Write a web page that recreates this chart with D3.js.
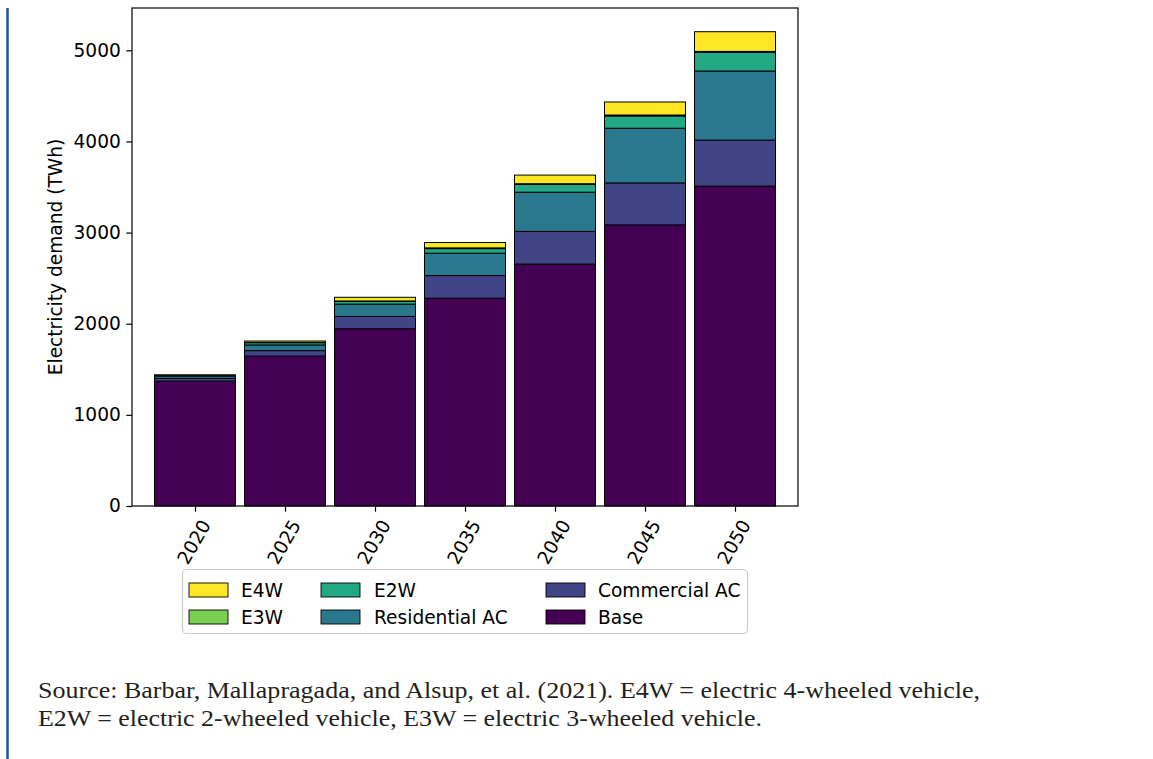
<!DOCTYPE html>
<html>
<head>
<meta charset="utf-8">
<script src="https://cdn.jsdelivr.net/npm/d3@7"></script>
<style>
  body { margin: 0; background: #fff; }
  svg { display: block; }
</style>
</head>
<body>
<div id="chart"></div>
<script>
// Data (TWh)
const years = ['2020', '2025', '2030', '2035', '2040', '2045', '2050'];
const base = [1370, 1645, 1945, 2280, 2655, 3085, 3510];
const commercialAC = [30, 60, 135, 248, 358, 460, 505];
const residentialAC = [25, 62, 135, 246, 430, 600, 758];
const e2w = [8, 25, 30, 50, 85, 135, 205];
const e3w = [1, 3, 5, 8, 8, 10, 10];
const e4w = [5, 15, 40, 59, 95, 143, 216];
const yTicks = [0, 1000, 2000, 3000, 4000, 5000];

const seriesKeys = ['Base', 'Commercial AC', 'Residential AC', 'E2W', 'E3W', 'E4W'];
const seriesColors = {
  'Base': '#440154',
  'Commercial AC': '#414487',
  'Residential AC': '#2a788e',
  'E2W': '#22a884',
  'E3W': '#7ad151',
  'E4W': '#fde725'
};
const legendOrder = ['E4W', 'E3W', 'E2W', 'Residential AC', 'Commercial AC', 'Base'];

const rows = years.map((y, i) => ({
  year: y,
  'Base': base[i],
  'Commercial AC': commercialAC[i],
  'Residential AC': residentialAC[i],
  'E2W': e2w[i],
  'E3W': e3w[i],
  'E4W': e4w[i]
}));

const W = 1153, H = 759;
const font = 'DejaVu Sans, sans-serif';
const fs = 18.6;

const svg = d3.select('#chart').append('svg')
  .attr('width', W).attr('height', H);

// left accent rule
svg.append('line')
  .attr('x1', 7.5).attr('x2', 7.5).attr('y1', 8).attr('y2', H)
  .attr('stroke', '#1b55a0').attr('stroke-width', 2.5);

const plot = { left: 132, right: 798, top: 8, bottom: 506 };

const stacked = d3.stack().keys(seriesKeys)(rows);
const totals = rows.map(r => d3.sum(seriesKeys, k => r[k]));

const x = d3.scaleLinear().domain([-0.7, years.length - 0.3]).range([plot.left, plot.right]);
const y = d3.scaleLinear().domain([0, d3.max(totals) * 1.05]).range([plot.bottom, plot.top]);
const barW = 0.9;

const g = svg.append('g');

// bars
stacked.forEach(layer => {
  g.append('g')
    .selectAll('rect')
    .data(layer)
    .join('rect')
    .attr('x', (d, i) => x(i - barW / 2))
    .attr('width', (d, i) => x(i + barW / 2) - x(i - barW / 2))
    .attr('y', d => y(d[1]))
    .attr('height', d => Math.max(0, y(d[0]) - y(d[1])))
    .attr('fill', seriesColors[layer.key])
    .attr('stroke', '#000')
    .attr('stroke-width', 1);
});

// axes frame
g.append('rect')
  .attr('x', plot.left).attr('y', plot.top)
  .attr('width', plot.right - plot.left).attr('height', plot.bottom - plot.top)
  .attr('fill', 'none').attr('stroke', '#000').attr('stroke-width', 1.2);

// y axis
const yAxis = g.append('g')
  .attr('transform', `translate(${plot.left},0)`)
  .call(d3.axisLeft(y).tickValues(yTicks).tickSize(5.7).tickPadding(5.5).tickFormat(d3.format('d')));
yAxis.select('.domain').remove();
yAxis.selectAll('line').attr('stroke', '#000').attr('stroke-width', 1.2);
yAxis.selectAll('text')
  .style('font-family', font).style('font-size', fs + 'px').attr('fill', '#000');

// x axis
const xAxis = g.append('g')
  .attr('transform', `translate(0,${plot.bottom})`)
  .call(d3.axisBottom(x).tickValues(d3.range(years.length)).tickSize(5.7).tickFormat(''));
xAxis.select('.domain').remove();
xAxis.selectAll('line').attr('stroke', '#000').attr('stroke-width', 1.2);

years.forEach((yr, i) => {
  g.append('text')
    .attr('transform', `translate(${x(i) - 1},${plot.bottom + 36}) rotate(-60)`)
    .attr('text-anchor', 'middle')
    .attr('dominant-baseline', 'central')
    .style('font-family', font).style('font-size', fs + 'px')
    .text(yr);
});

// y label
g.append('text')
  .attr('transform', `translate(55,${(plot.top + plot.bottom) / 2}) rotate(-90)`)
  .attr('text-anchor', 'middle')
  .attr('dominant-baseline', 'central')
  .style('font-family', font).style('font-size', fs + 'px')
  .text('Electricity demand (TWh)');

// legend
const leg = svg.append('g');
leg.append('rect')
  .attr('x', 182.5).attr('y', 569.5).attr('width', 565).attr('height', 64)
  .attr('rx', 4).attr('fill', '#fff').attr('stroke', '#cccccc').attr('stroke-width', 1.2);

const colPatchX = [189, 321, 546];
const colTextX = [241, 374, 598];
const rowY = [590, 617];
legendOrder.forEach((k, i) => {
  const c = Math.floor(i / 2), r = i % 2;
  leg.append('rect')
    .attr('x', colPatchX[c]).attr('y', rowY[r] - 7)
    .attr('width', 39).attr('height', 14)
    .attr('fill', seriesColors[k]).attr('stroke', '#000').attr('stroke-width', 0.9);
  leg.append('text')
    .attr('x', colTextX[c]).attr('y', rowY[r])
    .attr('dominant-baseline', 'central')
    .style('font-family', font).style('font-size', fs + 'px')
    .text(k);
});

// source note
const note = svg.append('text')
  .style('font-family', 'Liberation Serif, serif').style('font-size', '23.5px')
  .attr('fill', '#231f20');
note.append('tspan').attr('x', 38).attr('y', 698)
  .attr('textLength', 942).attr('lengthAdjust', 'spacingAndGlyphs')
  .text('Source: Barbar, Mallapragada, and Alsup, et al. (2021). E4W = electric 4-wheeled vehicle,');
note.append('tspan').attr('x', 38).attr('y', 726)
  .attr('textLength', 724).attr('lengthAdjust', 'spacingAndGlyphs')
  .text('E2W = electric 2-wheeled vehicle, E3W = electric 3-wheeled vehicle.');
</script>
</body>
</html>
